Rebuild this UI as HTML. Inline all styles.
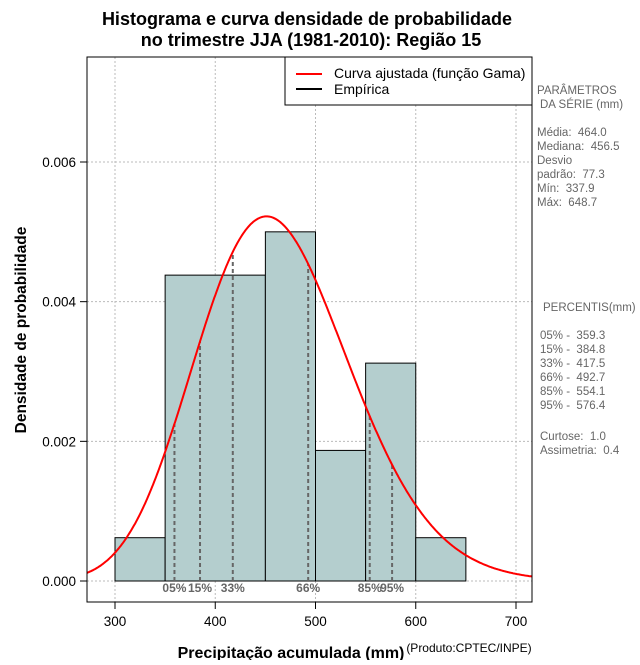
<!DOCTYPE html>
<html><head><meta charset="utf-8"><style>
body{margin:0;background:#fff;}
svg text{font-family:"Liberation Sans",sans-serif;white-space:pre;}
</style></head><body>
<svg id="c" width="640" height="660" xmlns="http://www.w3.org/2000/svg">
<rect width="640" height="660" fill="#fff"/>
<text x="307" y="25" text-anchor="middle" font-size="18" font-weight="bold">Histograma e curva densidade de probabilidade</text>
<text x="311" y="46" text-anchor="middle" font-size="18" font-weight="bold">no trimestre JJA (1981-2010): Região 15</text>
<g id="grid"></g>
<g id="bars"></g>
<g id="pct"></g>
<path id="curve" fill="none" stroke="#ff0000" stroke-width="2"/>
<rect x="87" y="57" width="445" height="545" fill="none" stroke="#000"/>
<g id="axes"></g>
<text x="291" y="658" text-anchor="middle" font-size="16" font-weight="bold">Precipitação acumulada (mm)</text>
<text x="469" y="652" text-anchor="middle" font-size="12">(Produto:CPTEC/INPE)</text>
<text transform="translate(26,330) rotate(-90)" text-anchor="middle" font-size="15.5" font-weight="bold">Densidade de probabilidade</text>
<g>
<rect x="285" y="57" width="247" height="48" fill="#fff" stroke="#000"/>
<line x1="296" y1="74" x2="322" y2="74" stroke="#ff0000" stroke-width="2"/>
<text x="334" y="78" font-size="14">Curva ajustada (função Gama)</text>
<line x1="296" y1="89" x2="322" y2="89" stroke="#000" stroke-width="2"/>
<text x="334" y="94" font-size="14">Empírica</text>
</g>
<g font-size="11.5" fill="#666">
<text x="537" y="94">PARÂMETROS</text>
<text x="540" y="108">DA SÉRIE (mm)</text>
<text x="537" y="136">Média:  464.0</text>
<text x="537" y="150">Mediana:  456.5</text>
<text x="537" y="164">Desvio</text>
<text x="537" y="178">padrão:  77.3</text>
<text x="537" y="192">Mín:  337.9</text>
<text x="537" y="206">Máx:  648.7</text>
<text x="543" y="311">PERCENTIS(mm)</text>
<text x="540" y="339">05% -  359.3</text>
<text x="540" y="353">15% -  384.8</text>
<text x="540" y="367">33% -  417.5</text>
<text x="540" y="381">66% -  492.7</text>
<text x="540" y="395">85% -  554.1</text>
<text x="540" y="409">95% -  576.4</text>
<text x="540" y="440">Curtose:  1.0</text>
<text x="540" y="454">Assimetria:  0.4</text>
</g>
</svg>
<script>
const binStarts=[300,350,450,500,550,600];
const binEnds=[350,450,500,550,600,650];
const densities=[0.00062,0.00438,0.00500,0.00187,0.00312,0.00062];
const pctLabels=["05%","15%","33%","66%","85%","95%"];
const pctValues=[359.3,384.8,417.5,492.7,554.1,576.4];
const xTicks=[300,400,500,600,700];
const yTicks=[0,0.002,0.004,0.006];
const yTickLabels=["0.000","0.002","0.004","0.006"];
const gammaMean=464.0, gammaSd=77.3;

const NS="http://www.w3.org/2000/svg";
const X=v=>115+(v-300)*1.0025;
const Y=v=>581-v*69833;
function mk(tag,attrs,parent){const e=document.createElementNS(NS,tag);for(const k in attrs)e.setAttribute(k,attrs[k]);parent.appendChild(e);return e;}
function lgamma(z){const g=7,c=[0.99999999999980993,676.5203681218851,-1259.1392167224028,771.32342877765313,-176.61502916214059,12.507343278686905,-0.13857109526572012,9.9843695780195716e-6,1.5056327351493116e-7];z-=1;let x=c[0];for(let i=1;i<g+2;i++)x+=c[i]/(z+i);const t=z+g+0.5;return 0.5*Math.log(2*Math.PI)+(z+0.5)*Math.log(t)-t+Math.log(x);}
const k=(gammaMean/gammaSd)**2, th=gammaSd*gammaSd/gammaMean;
const pdf=x=>Math.exp((k-1)*Math.log(x)-x/th-lgamma(k)-k*Math.log(th));

const grid=document.getElementById('grid');
xTicks.forEach(t=>{const l=mk('line',{x1:X(t),x2:X(t),y1:57,y2:602,stroke:'#bbb','stroke-dasharray':'2,2'},grid);

});
yTicks.forEach(t=>{const l=mk('line',{x1:87,x2:532,y1:Y(t),y2:Y(t),stroke:'#bbb','stroke-dasharray':'2,2'},grid);

});

const bars=document.getElementById('bars');
densities.forEach((d,i)=>{const r=mk('rect',{x:X(binStarts[i]),y:Y(d),width:X(binEnds[i])-X(binStarts[i]),height:Y(0)-Y(d),fill:'#b4cece',stroke:'#000','stroke-width':1},bars);

});
const base=mk('line',{x1:X(binStarts[0]),x2:X(binEnds[binEnds.length-1]),y1:Y(0),y2:Y(0),stroke:'#000','stroke-dasharray':'1,2'},bars);



const pct=document.getElementById('pct');
pctValues.forEach((v,i)=>{const l=mk('line',{x1:X(v),x2:X(v),y1:Y(0),y2:Y(pdf(v)),stroke:'#666','stroke-width':2,'stroke-dasharray':'4,3'},pct);


const t=mk('text',{x:X(v),y:592,'text-anchor':'middle','font-size':12,'font-weight':'bold',fill:'#666'},pct);t.textContent=pctLabels[i];

});

let d='';for(let x=272;x<=716;x+=1){d+=(x===272?'M':'L')+X(x).toFixed(1)+','+Y(pdf(x)).toFixed(1);}
document.getElementById('curve').setAttribute('d',d);

const axes=document.getElementById('axes');
xTicks.forEach(t=>{mk('line',{x1:X(t),x2:X(t),y1:602,y2:609,stroke:'#000'},axes);
const tx=mk('text',{x:X(t),y:626,'text-anchor':'middle','font-size':13.5},axes);tx.textContent=t;

});
yTicks.forEach((t,i)=>{mk('line',{x1:80,x2:87,y1:Y(t),y2:Y(t),stroke:'#000'},axes);
const tx=mk('text',{x:76,y:Y(t)+5,'text-anchor':'end','font-size':13.5},axes);tx.textContent=yTickLabels[i];

});
</script>
</body></html>
